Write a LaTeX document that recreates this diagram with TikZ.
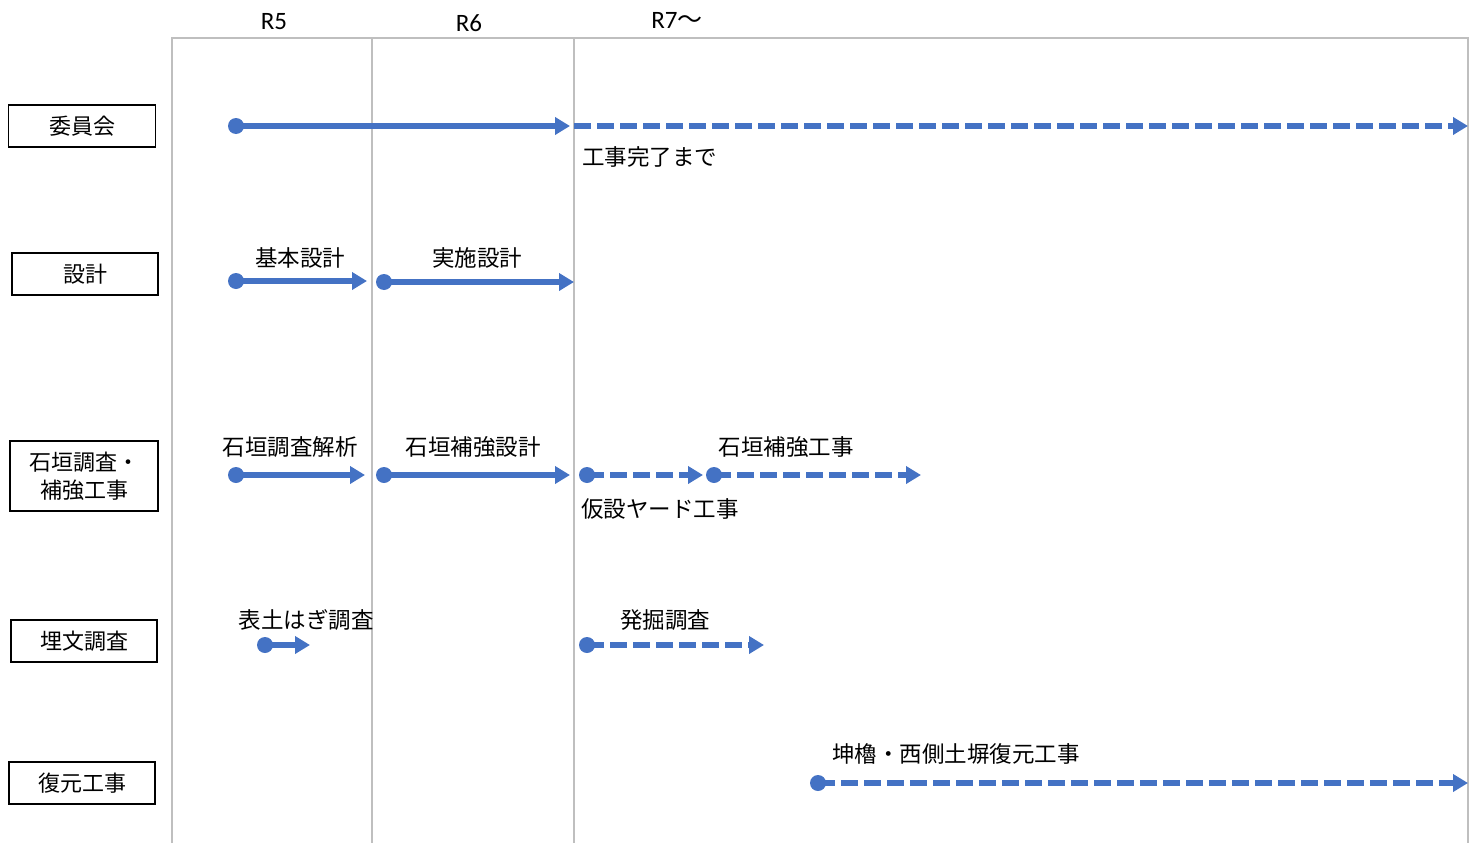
\documentclass[tikz,border=0pt]{standalone}
\usepackage{fontspec}
\setmainfont{Noto Sans CJK JP}
\newfontfamily\latfont{Carlito}
\usetikzlibrary{arrows.meta}
\definecolor{bl}{HTML}{4472C4}
\definecolor{gr}{HTML}{BFBFBF}
\begin{document}
\begin{tikzpicture}[x=1pt,y=-1pt,
  lbl/.style={font=\fontsize{22.5}{26}\selectfont, inner sep=0pt},
  hdr/.style={font=\fontsize{25}{28}\selectfont, inner sep=0pt},
  catbox/.style={draw=black, line width=1.5pt, inner sep=0pt, align=center,
    font=\fontsize{22}{28}\selectfont},
  dot/.style={circle, fill=bl, minimum size=16pt, inner sep=0pt},
  arr/.style={draw=bl, line width=5.5pt, -{Triangle[length=15pt,width=17pt]}},
  darr/.style={arr, dash pattern=on 17pt off 6pt},
  gridline/.style={draw=gr, line width=2pt}]
\useasboundingbox (0,0) rectangle (1482,843);
% grid
\draw[gridline] (172,843) -- (172,38) -- (1468,38) -- (1468,843);
\draw[gridline] (372,38) -- (372,843);
\draw[gridline] (574,38) -- (574,843);
% headers
\node[hdr] (hR5) at (274,22) {\latfont R5};
\node[hdr] (hR6) at (469,23) {\latfont R6};
\node[hdr] (hR7) at (677,20) {{\latfont R7}〜};
% category boxes
\node[catbox, minimum width=147pt, minimum height=42pt] (k1) at (82,126) {委員会};
\node[catbox, minimum width=146pt, minimum height=42pt] (k2) at (85,274) {設計};
\node[catbox, minimum width=148pt, minimum height=70pt] (k3) at (84,476) {石垣調査・\\補強工事};
\node[catbox, minimum width=146pt, minimum height=42pt] (k4) at (84,641) {埋文調査};
\node[catbox, minimum width=146pt, minimum height=42pt] (k5) at (82,783) {復元工事};
% row 1
\node[dot] (a1) at (236,126) {};
\coordinate (a1e) at (570,126);
\coordinate (a2s) at (574,126);
\coordinate (a2e) at (1468,126);
\draw[arr] (a1.center) -- (a1e);
\draw[darr] (a2s) -- (a2e);
\node[lbl, anchor=west] (la2) at (582,157) {工事完了まで};
% row 2
\node[dot] (b1) at (236,281) {};
\coordinate (b1e) at (367,281);
\draw[arr] (b1.center) -- (b1e);
\node[lbl] (lb1) at (300,258) {基本設計};
\node[dot] (b2) at (384,282) {};
\coordinate (b2e) at (574,282);
\draw[arr] (b2.center) -- (b2e);
\node[lbl] (lb2) at (477,258) {実施設計};
% row 3
\node[dot] (c1) at (236,475) {};
\coordinate (c1e) at (365,475);
\draw[arr] (c1.center) -- (c1e);
\node[lbl] (lc1) at (290,447) {石垣調査解析};
\node[dot] (c2) at (384,475) {};
\coordinate (c2e) at (570,475);
\draw[arr] (c2.center) -- (c2e);
\node[lbl] (lc2) at (473,447) {石垣補強設計};
\node[dot] (c3) at (587,475) {};
\coordinate (c3e) at (703,475);
\draw[darr] (c3.center) -- (c3e);
\node[lbl, anchor=west] (lc3) at (581,509) {仮設ヤード工事};
\node[dot] (c4) at (714,475) {};
\coordinate (c4e) at (921,475);
\draw[darr] (c4.center) -- (c4e);
\node[lbl] (lc4) at (786,447) {石垣補強工事};
% row 4
\node[dot] (d1) at (265,645) {};
\coordinate (d1e) at (310,645);
\draw[arr] (d1.center) -- (d1e);
\node[lbl] (ld1) at (306,620) {表土はぎ調査};
\node[dot] (d2) at (587,645) {};
\coordinate (d2e) at (764,645);
\draw[darr] (d2.center) -- (d2e);
\node[lbl] (ld2) at (665,620) {発掘調査};
% row 5
\node[dot] (f1) at (818,783) {};
\coordinate (f1e) at (1468,783);
\draw[darr] (f1.center) -- (f1e);
\node[lbl, anchor=west] (lf1) at (832,754) {坤櫓・西側土塀復元工事};
\end{tikzpicture}
\end{document}
